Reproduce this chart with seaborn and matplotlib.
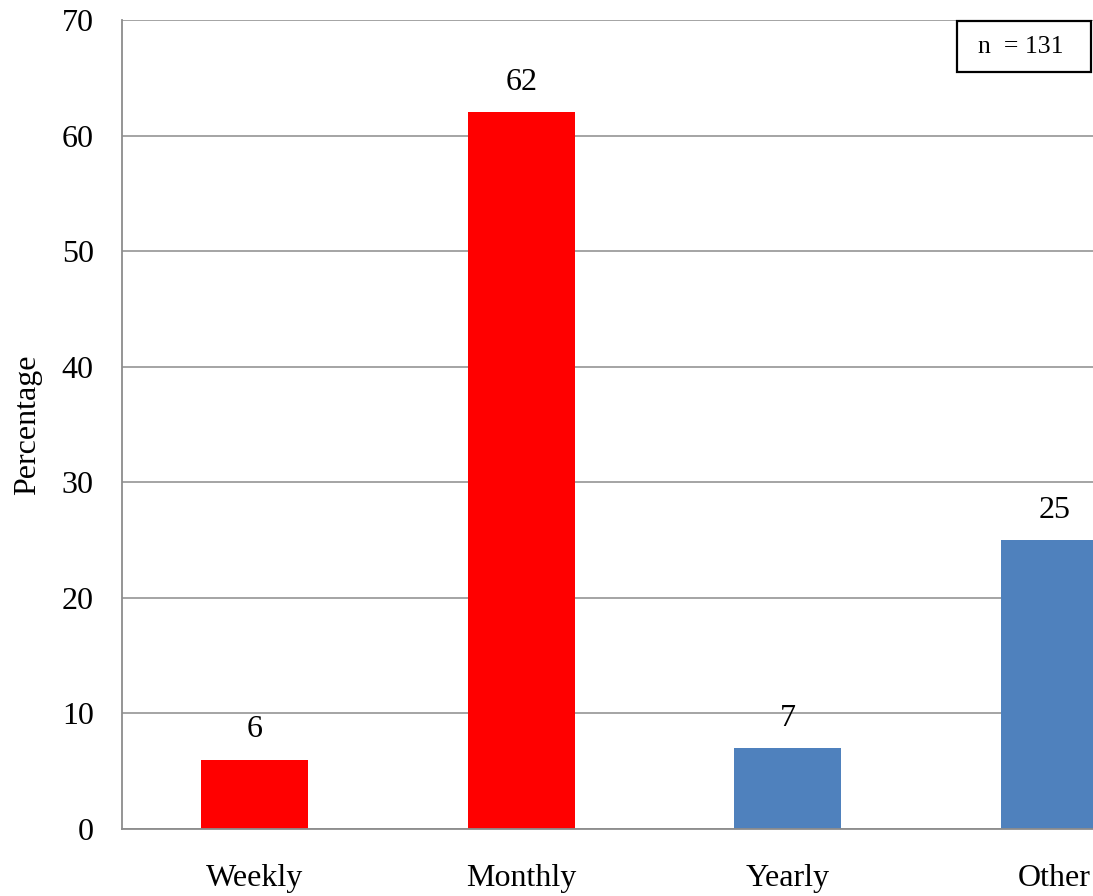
import matplotlib
matplotlib.use("Agg")
import matplotlib.pyplot as plt
from matplotlib.patches import Rectangle
import seaborn as sns
import pandas as pd

categories = ["Weekly", "Monthly", "Yearly", "Other"]
values = [6, 62, 7, 25]
colors = ["#FF0000", "#FF0000", "#4F81BD", "#4F81BD"]
y_ticks = [0, 10, 20, 30, 40, 50, 60, 70]
y_label = "Percentage"
n_text = "n  = 131"

sns.set_style("white")
plt.rcParams["font.family"] = ["Liberation Serif", "DejaVu Serif"]
plt.rcParams["text.color"] = "black"
plt.rcParams["axes.labelcolor"] = "black"
plt.rcParams["xtick.color"] = "black"
plt.rcParams["ytick.color"] = "black"

W, H = 1093, 896
fig = plt.figure(figsize=(W / 100, H / 100), dpi=100)
ax = fig.add_axes([121.5 / W, (H - 829) / H, 1066 / W, 809 / H])

df = pd.DataFrame({"cat": categories, "val": values})
sns.barplot(data=df, x="cat", y="val", hue="cat", palette=colors,
            width=0.4, legend=False, ax=ax, saturation=1, linewidth=0)

ax.set_xlim(-0.5, 3.5)
ax.set_ylim(0, 70)
ax.set_yticks(y_ticks)
ax.set_yticklabels([str(t) for t in y_ticks])
ax.set_xlabel("")
ax.set_ylabel(y_label, fontsize=23, labelpad=14, color="black")
ax.tick_params(axis="y", length=0, pad=20, labelsize=23, labelcolor="black")
ax.tick_params(axis="x", length=0, pad=25, labelsize=23, labelcolor="black")

ax.grid(axis="y", color="#8C8C8C", linewidth=1.1)
ax.set_axisbelow(True)
for s in ["top", "right"]:
    ax.spines[s].set_visible(False)
for s in ["left", "bottom"]:
    ax.spines[s].set_color("#8C8C8C")
    ax.spines[s].set_linewidth(1.3)

for cont in ax.containers:
    ax.bar_label(cont, fmt="%g", padding=11, fontsize=23, color="black")

fig.patches.append(Rectangle((957 / W, 1 - 72 / H), (1091 - 957) / W, 51 / H,
                             transform=fig.transFigure, fill=True, fc="white",
                             ec="black", lw=1.6, zorder=5))
fig.text(1021 / W, 1 - 47 / H, n_text, ha="center", va="center", fontsize=18.5,
         color="black", zorder=6)

fig.savefig("out.png", dpi=100)
